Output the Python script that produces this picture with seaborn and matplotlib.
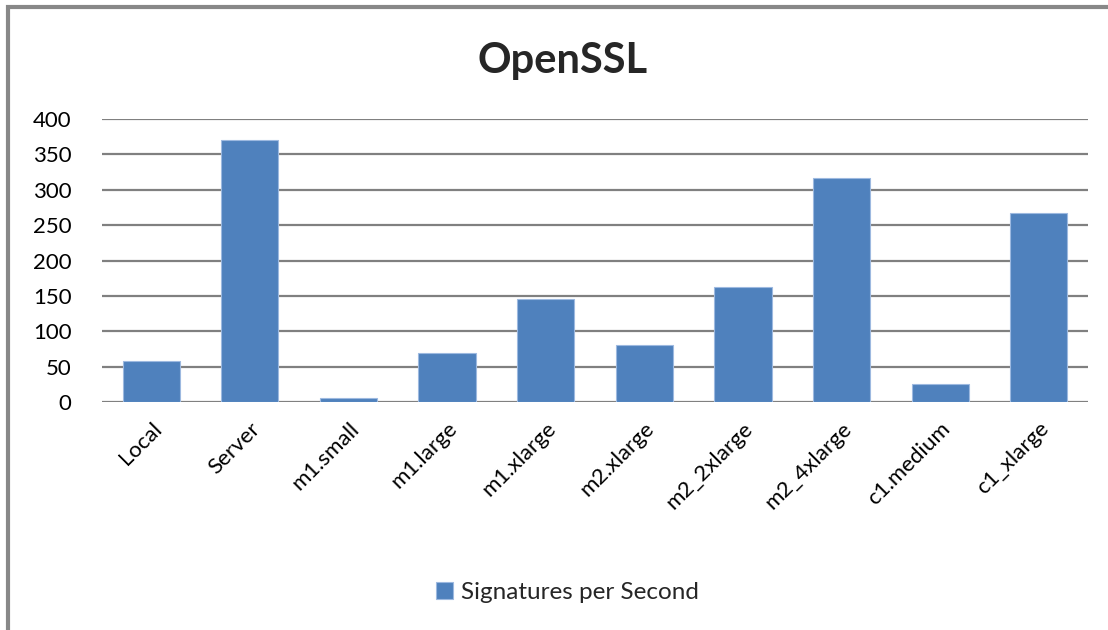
import pandas as pd
import matplotlib
matplotlib.use("Agg")
import matplotlib.pyplot as plt
import seaborn as sns
from matplotlib.patches import Rectangle

# data
instances = ['Local', 'Server', 'm1.small', 'm1.large', 'm1.xlarge',
             'm2.xlarge', 'm2_2xlarge', 'm2_4xlarge', 'c1.medium', 'c1_xlarge']
signatures = [58, 370, 6, 69, 145, 81, 162, 317, 26, 267]
series_name = 'Signatures per Second'

df = pd.DataFrame({'Instance': instances, 'Signatures': signatures})

sns.set_theme(style='white')
plt.rcParams['font.family'] = ['Lato', 'DejaVu Sans']

fig = plt.figure(figsize=(11.08, 6.3), dpi=100)
ax = fig.add_axes([0.092, 0.362, 0.890, 0.449])

sns.barplot(data=df, x='Instance', y='Signatures', color='#4F81BD',
            width=0.58, saturation=1, label=series_name, ax=ax,
            edgecolor='#9DB9E0', linewidth=0.8)

ax.set_ylim(0, 400)
ax.set_xlim(-0.5, len(instances) - 0.5)
ax.set_yticks(range(0, 401, 50))
ax.yaxis.grid(True, color='#808080', linewidth=1.6)
ax.set_axisbelow(True)
for s in ax.spines.values():
    s.set_visible(False)
ax.set_xlabel('')
ax.set_ylabel('')
ax.tick_params(axis='y', labelsize=16, length=0, pad=22, colors='black')
ax.tick_params(axis='x', labelsize=16, length=0, pad=12, colors='black')
plt.setp(ax.get_xticklabels(), rotation=45, ha='right', rotation_mode='anchor')

fig.suptitle('OpenSSL', fontsize=30, fontweight='bold', x=0.508, y=0.933)

ax.legend(loc='center', bbox_to_anchor=(0.512, 0.06), bbox_transform=fig.transFigure,
          frameon=False, fontsize=17.5, handlelength=0.7, handleheight=0.7,
          handletextpad=0.3)

# chart frame
fig.patches.append(Rectangle((8 / 1108, -0.1), 1.2, 1 - 7 / 630 + 0.1,
                             transform=fig.transFigure, fill=False,
                             edgecolor='#888888', linewidth=3, zorder=0))

fig.savefig('out.png', dpi=100)
